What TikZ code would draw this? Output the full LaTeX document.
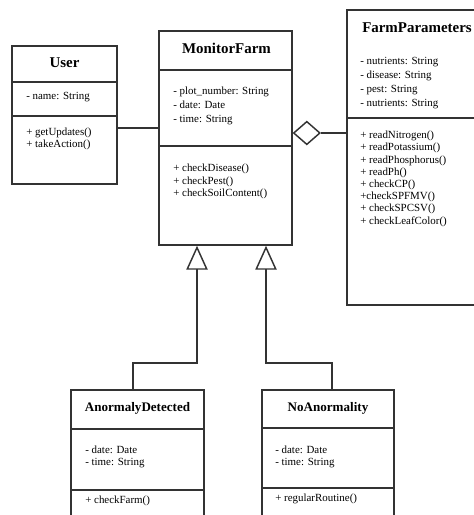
\documentclass[tikz,border=0pt]{standalone}
\usepackage{fontspec}
\setmainfont{Liberation Serif}
\usetikzlibrary{arrows.meta,shapes.geometric,fit}

\tikzset{
  classbox/.style={draw=black!80, line width=1.1pt, inner sep=0pt},
  divider/.style={draw=black!80, line width=1.1pt},
  member/.style={anchor=west, inner sep=0pt, text height=6pt, text depth=2pt,
    font=\fontsize{8.2}{10}\selectfont},
  classname/.style={inner sep=0pt, font=\fontsize{11.2}{13}\selectfont\bfseries},
  subname/.style={inner sep=0pt, font=\fontsize{9.8}{12}\selectfont\bfseries},
  aggr/.style={diamond, draw=black!80, line width=1.1pt, fill=white, inner sep=0pt,
    minimum width=20pt, minimum height=17.5pt},
  inherit/.style={draw=black!80, line width=1.1pt,
    -{Triangle[open, width=16pt, length=18pt]}},
}

\begin{document}
\begin{tikzpicture}[x=0.75pt,y=0.75pt,yscale=-1,xscale=1]
\useasboundingbox (0,0) rectangle (474,515);
\clip (0,0) rectangle (474,515);

%Class: User
\node[classbox, fit={(12,46) (117,184)}] (user) {};
\draw[divider] (user.west |- 0,82) -- (user.east |- 0,82);
\draw[divider] (user.west |- 0,116) -- (user.east |- 0,116);
\node[classname] (usertitle) at (64.5,63) {User};
\node[member] (ua1) at (26,97) {- name: String};
\foreach \m [count=\i] in {+ getUpdates(), + takeAction()}
  \node[member] (um\i) at (26,{133+12*(\i-1)}) {\m};

%Class: MonitorFarm
\node[classbox, fit={(159,31) (292,245)}] (monitor) {};
\draw[divider] (monitor.west |- 0,70) -- (monitor.east |- 0,70);
\draw[divider] (monitor.west |- 0,146) -- (monitor.east |- 0,146);
\node[classname] (monitortitle) at (226.5,48) {MonitorFarm};
\foreach \m [count=\i] in {- plot\_number: String, - date: Date, - time: String}
  \node[member] (ma\i) at (173,{92+14*(\i-1)}) {\m};
\foreach \m [count=\i] in {+ checkDisease(), + checkPest(), + checkSoilContent()}
  \node[member] (mm\i) at (173,{169+12.5*(\i-1)}) {\m};

%Class: FarmParameters
\node[classbox, fit={(347,10) (487,305)}] (farm) {};
\draw[divider] (farm.west |- 0,118) -- (farm.east |- 0,118);
\node[classname] (farmtitle) at (417,28) {FarmParameters};
\foreach \m [count=\i] in {- nutrients: String, - disease: String, - pest: String, - nutrients: String}
  \node[member] (fa\i) at (360,{62+14*(\i-1)}) {\m};
\foreach \m [count=\i] in {+ readNitrogen(), + readPotassium(), + readPhosphorus(), + readPh(),
    + checkCP(), +checkSPFMV(), + checkSPCSV(), + checkLeafColor()}
  \node[member] (fm\i) at (360,{136+12.2*(\i-1)}) {\m};

%Class: AnormalyDetected
\node[classbox, fit={(71,390) (204,530)}] (anomaly) {};
\draw[divider] (anomaly.west |- 0,429) -- (anomaly.east |- 0,429);
\draw[divider] (anomaly.west |- 0,490) -- (anomaly.east |- 0,490);
\node[subname] (anomalytitle) at (137.5,408) {AnormalyDetected};
\foreach \m [count=\i] in {- date: Date, - time: String}
  \node[member] (aa\i) at (85,{451+12*(\i-1)}) {\m};
\node[member] (am1) at (85,501) {+ checkFarm()};

%Class: NoAnormality
\node[classbox, fit={(262,390) (394,530)}] (normal) {};
\draw[divider] (normal.west |- 0,428) -- (normal.east |- 0,428);
\draw[divider] (normal.west |- 0,488) -- (normal.east |- 0,488);
\node[subname] (normaltitle) at (328,408) {NoAnormality};
\foreach \m [count=\i] in {- date: Date, - time: String}
  \node[member] (na\i) at (275,{451+12*(\i-1)}) {\m};
\node[member] (nm1) at (275,499) {+ regularRoutine()};

%Association User -- MonitorFarm
\draw[divider] (user.east |- 0,128) -- (monitor.west |- 0,128);

%Aggregation MonitorFarm -- FarmParameters
\node[aggr, anchor=west] (agg) at (monitor.east |- 0,133) {};
\draw[divider] (agg.east) -- (agg.east -| farm.west);

%Generalisations
\draw[inherit] (anomaly.north -| 133,0) |- (197,363) -- (monitor.south -| 197,0);
\draw[inherit] (normal.north -| 332,0) |- (266,363) -- (monitor.south -| 266,0);

\end{tikzpicture}
\end{document}
